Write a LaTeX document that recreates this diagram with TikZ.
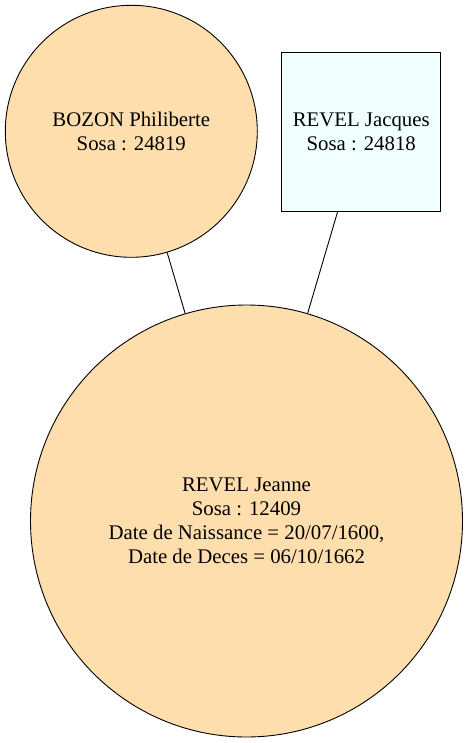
\documentclass[tikz,border=0pt]{standalone}
\usepackage{fontspec}
\setmainfont{Liberation Serif}
\newfontfamily\timesfont{Liberation Serif}
\usepackage{tikz}
\usetikzlibrary{positioning}
\definecolor{navajo}{HTML}{FFDEAD}
\definecolor{azurebg}{HTML}{F0FFFF}

\begin{document}
\begin{tikzpicture}[x=1pt,y=-1pt,
  person/.style={draw,line width=0.9pt,align=center,inner sep=0pt,font=\timesfont\fontsize{20.8}{24}\selectfont},
  female/.style={person,circle,fill=navajo},
  male/.style={person,rectangle,fill=azurebg,minimum size=159pt}]
  \useasboundingbox (0,0) rectangle (468,743);
  \node[female,minimum size=252pt] (bozon) at (131.3,131.3) {BOZON Philiberte\\Sosa : 24819};
  \node[male] (jacques) at (361.2,131.5) {REVEL Jacques\\Sosa : 24818};
  \node[female,minimum size=432pt] (jeanne) at (246.5,521) {REVEL Jeanne\\Sosa : 12409\\Date de Naissance = 20/07/1600,\\Date de Deces = 06/10/1662};
  \path[line width=0.9pt] (bozon) edge (jeanne) (jacques) edge (jeanne);
\end{tikzpicture}
\end{document}
